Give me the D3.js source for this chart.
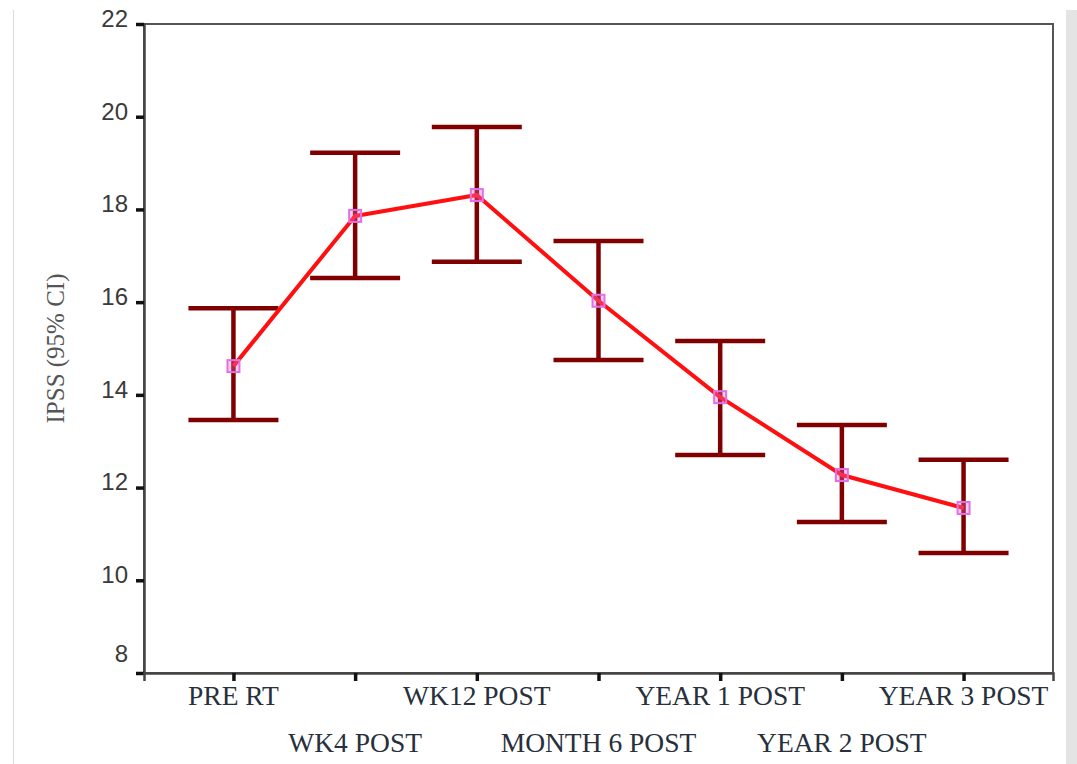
<!DOCTYPE html>
<html>
<head>
<meta charset="utf-8">
<script src="https://cdn.jsdelivr.net/npm/d3@7"></script>
<style>
  html, body { margin: 0; padding: 0; background: #fff; }
  svg { display: block; }
</style>
</head>
<body>
<svg id="chart" width="1077" height="764"></svg>
<script>
// IPSS score over follow-up: mean with 95% confidence interval
const categories = ["PRE RT", "WK4 POST", "WK12 POST", "MONTH 6 POST", "YEAR 1 POST", "YEAR 2 POST", "YEAR 3 POST"];
const means = [14.62, 17.86, 18.31, 16.03, 13.95, 12.27, 11.56];
const upper = [15.87, 19.22, 19.78, 17.32, 15.16, 13.35, 12.60];
const lower = [13.46, 16.52, 16.87, 14.75, 12.70, 11.26, 10.59];
const yTicks = [8, 10, 12, 14, 16, 18, 20, 22];
const yTitle = "IPSS (95% CI)";

const svg = d3.select("#chart");
const W = 1077, H = 764;
const plot = { left: 144, right: 1053, top: 24, bottom: 673 };

// page edges
svg.append("line").attr("x1", 13.5).attr("x2", 13.5).attr("y1", 10).attr("y2", H)
  .attr("stroke", "#dcdcdc").attr("stroke-width", 1);
svg.append("rect").attr("x", 1066).attr("y", 10).attr("width", W - 1066).attr("height", H - 10)
  .attr("fill", "#e4e4e4");

const x = d3.scalePoint().domain(categories).range([plot.left, plot.right]).padding(0.735);
const y = d3.scaleLinear().domain([8, 22]).range([plot.bottom, plot.top]);

// frame
svg.append("rect")
  .attr("x", plot.left).attr("y", plot.top)
  .attr("width", plot.right - plot.left).attr("height", plot.bottom - plot.top)
  .attr("fill", "none").attr("stroke", "#555").attr("stroke-width", 2);

// y axis
const yAxis = svg.append("g").attr("transform", `translate(${plot.left},0)`)
  .call(d3.axisLeft(y).tickValues(yTicks).tickSize(8).tickPadding(8));
yAxis.select(".domain").attr("stroke", "#444").attr("stroke-width", 2.5);
yAxis.selectAll(".tick line").attr("stroke", "#111").attr("stroke-width", 3.5);
yAxis.selectAll(".tick text")
  .attr("font-family", "Liberation Sans, Arial, sans-serif")
  .attr("font-size", 24).attr("fill", "#3a3a3a")
  .attr("dy", d => d === 8 ? "-0.5em" : "0.1em");

// x axis
const xAxis = svg.append("g").attr("transform", `translate(0,${plot.bottom})`)
  .call(d3.axisBottom(x).tickSize(8).tickFormat(""));
xAxis.select(".domain").attr("stroke", "#444").attr("stroke-width", 2.5);
xAxis.selectAll(".tick line").attr("stroke", "#111").attr("stroke-width", 3.5);

// staggered category labels
svg.append("g").selectAll("text").data(categories).join("text")
  .attr("x", d => x(d))
  .attr("y", (d, i) => i % 2 === 0 ? 705 : 752)
  .attr("text-anchor", "middle")
  .attr("font-family", "Liberation Serif, Times New Roman, serif")
  .attr("font-size", 27.5).attr("fill", "#27303c")
  .text(d => d);

// y title
svg.append("text")
  .attr("transform", `translate(64,${(plot.top + plot.bottom) / 2}) rotate(-90)`)
  .attr("text-anchor", "middle")
  .attr("font-family", "Liberation Serif, Times New Roman, serif")
  .attr("font-size", 25).attr("fill", "#555")
  .text(yTitle);

// error bars
const capHalf = 45;
const bars = svg.append("g").attr("stroke", "#800000").attr("stroke-width", 4.5).attr("fill", "none");
categories.forEach((c, i) => {
  const cx = x(c);
  bars.append("line").attr("x1", cx).attr("x2", cx).attr("y1", y(upper[i])).attr("y2", y(lower[i]));
  bars.append("line").attr("x1", cx - capHalf).attr("x2", cx + capHalf).attr("y1", y(upper[i])).attr("y2", y(upper[i]));
  bars.append("line").attr("x1", cx - capHalf).attr("x2", cx + capHalf).attr("y1", y(lower[i])).attr("y2", y(lower[i]));
});

// mean line
const line = d3.line().x((d, i) => x(categories[i])).y(d => y(d));
svg.append("path").datum(means)
  .attr("d", line)
  .attr("fill", "none").attr("stroke", "#ff1010").attr("stroke-width", 4)
  .attr("stroke-linejoin", "round");

// mean markers
svg.append("g").selectAll("rect").data(means).join("rect")
  .attr("x", (d, i) => x(categories[i]) - 6)
  .attr("y", d => y(d) - 6)
  .attr("width", 12).attr("height", 12)
  .attr("fill", "rgba(240,110,200,0.35)")
  .attr("stroke", "#e070e8").attr("stroke-width", 2);
</script>
</body>
</html>
